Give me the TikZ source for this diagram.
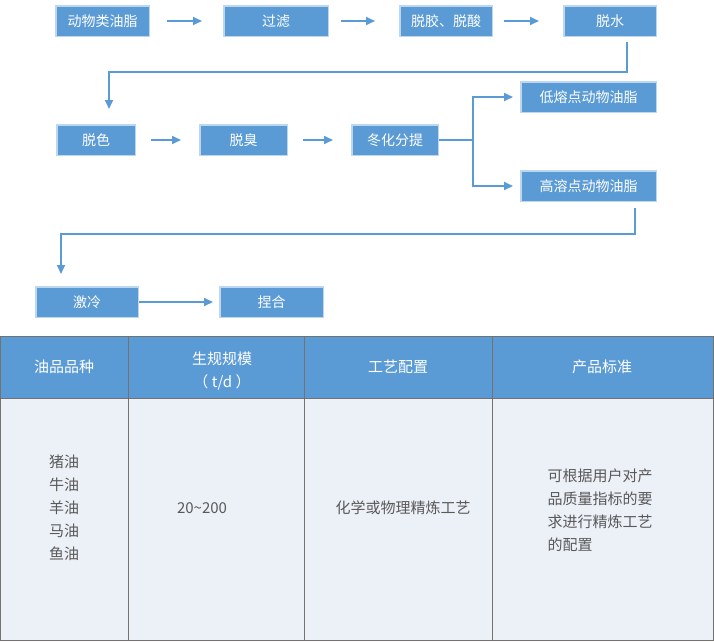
\documentclass[tikz,border=0pt]{standalone}
\usepackage{fontspec}
\setmainfont{Noto Sans CJK SC}
\usetikzlibrary{arrows.meta,positioning}
\definecolor{boxblue}{HTML}{5B9BD5}
\definecolor{boxrim}{HTML}{BDD7EE}
\definecolor{cellfill}{HTML}{ECF0F7}
\definecolor{rulegray}{HTML}{767171}
\definecolor{textgray}{HTML}{595959}

\begin{document}
\begin{tikzpicture}[x=1pt,y=-1pt,
    stage/.style={draw=boxrim,line width=1.5pt,fill=boxblue,text=white,
      minimum height=30.5pt,inner sep=0pt,font=\fontsize{14}{16}\selectfont},
    link/.style={draw=boxblue,line width=1.8pt},
    flow/.style={link,-{Triangle[length=9pt,width=8pt]}},
    head/.style={text=white,align=center,font=\fontsize{15}{23}\selectfont},
    cell/.style={text=textgray,align=center,font=\fontsize{15}{23}\selectfont}]
  \useasboundingbox (0,0) rectangle (714,641);

  \node [stage,minimum width=93.5pt]  (raw)   at (102.5,21)          {动物类油脂};
  \node [stage,minimum width=104.5pt] (filt)  [right=73pt of raw]    {过滤};
  \node [stage,minimum width=92.5pt]  (degum) [right=70pt of filt]   {脱胶、脱酸};
  \node [stage,minimum width=92.5pt]  (dewat) [right=70pt of degum]  {脱水};

  \node [stage,minimum width=78.5pt]  (bleach) at (96,140)           {脱色};
  \node [stage,minimum width=87.5pt]  (deodor) [right=63pt of bleach] {脱臭};
  \node [stage,minimum width=86.5pt]  (winter) [right=63pt of deodor] {冬化分提};
  \node [stage,minimum width=135.5pt] (lowmp)  at (588.5,97)         {低熔点动物油脂};
  \node [stage,minimum width=135.5pt] (highmp) at (588.5,186)        {高溶点动物油脂};

  \node [stage,minimum width=102.5pt] (chill) at (87,302)            {激冷};
  \node [stage,minimum width=103.5pt] (knead) [right=80pt of chill]  {捏合};

  \draw [flow,shorten <=17pt,shorten >=21pt] (raw) -- (filt);
  \draw [flow,shorten <=12pt,shorten >=24pt] (filt) -- (degum);
  \draw [flow,shorten <=11pt,shorten >=24pt] (degum) -- (dewat);
  \draw [flow,shorten <=15pt,shorten >=18pt] (bleach) -- (deodor);
  \draw [flow,shorten <=15pt,shorten >=18pt] (deodor) -- (winter);
  \draw [flow,shorten >=6pt] (chill) -- (knead);

  \coordinate (turn1) at (627,72);
  \coordinate (turn2) at (109,72);
  \draw [flow] ([xshift=17pt,yshift=-5pt]dewat.south) -- (turn1) -- (turn2)
    -- ([xshift=13pt,yshift=15pt]bleach.north);

  \coordinate (fork) at (473,140);
  \draw [link] (winter) -- (fork);
  \draw [flow] (fork) |- ([xshift=-7pt]lowmp.west);
  \draw [flow] (fork) |- ([xshift=-7pt]highmp.west);

  \coordinate (turn3) at (635,234);
  \coordinate (turn4) at (61,234);
  \draw [flow] ([xshift=46.5pt,yshift=-6pt]highmp.south) -- (turn3) -- (turn4)
    -- ([xshift=-26pt,yshift=12pt]chill.north);

  \fill [boxblue] (0,336) rectangle (713,398);
  \fill [cellfill] (0,398) rectangle (713,640);
  \draw [rulegray,line width=1pt] (0.5,336) rectangle (713,640.5) (0,398) -- (713,398);
  \foreach \x in {128,304,492}
    \draw [rulegray,line width=1pt] (\x,336) -- (\x,640);

  \node [head] (hkind)  at (64,367)    {油品品种};
  \node [head] (hscale) at (222,371.5) {生规规模\\（ t/d ）};
  \node [head] (hproc)  at (398,367)   {工艺配置};
  \node [head] (hstd)   at (602,367)   {产品标准};

  \node [cell] (kind)  at (64,508)  {猪油\\牛油\\羊油\\马油\\鱼油};
  \node [cell] (scale) at (202,508) {20\textasciitilde200};
  \node [cell] (proc)  at (403,508) {化学或物理精炼工艺};
  \node [cell,align=left] (std) at (600,510) {可根据用户对产\\品质量指标的要\\求进行精炼工艺\\的配置};
\end{tikzpicture}
\end{document}
